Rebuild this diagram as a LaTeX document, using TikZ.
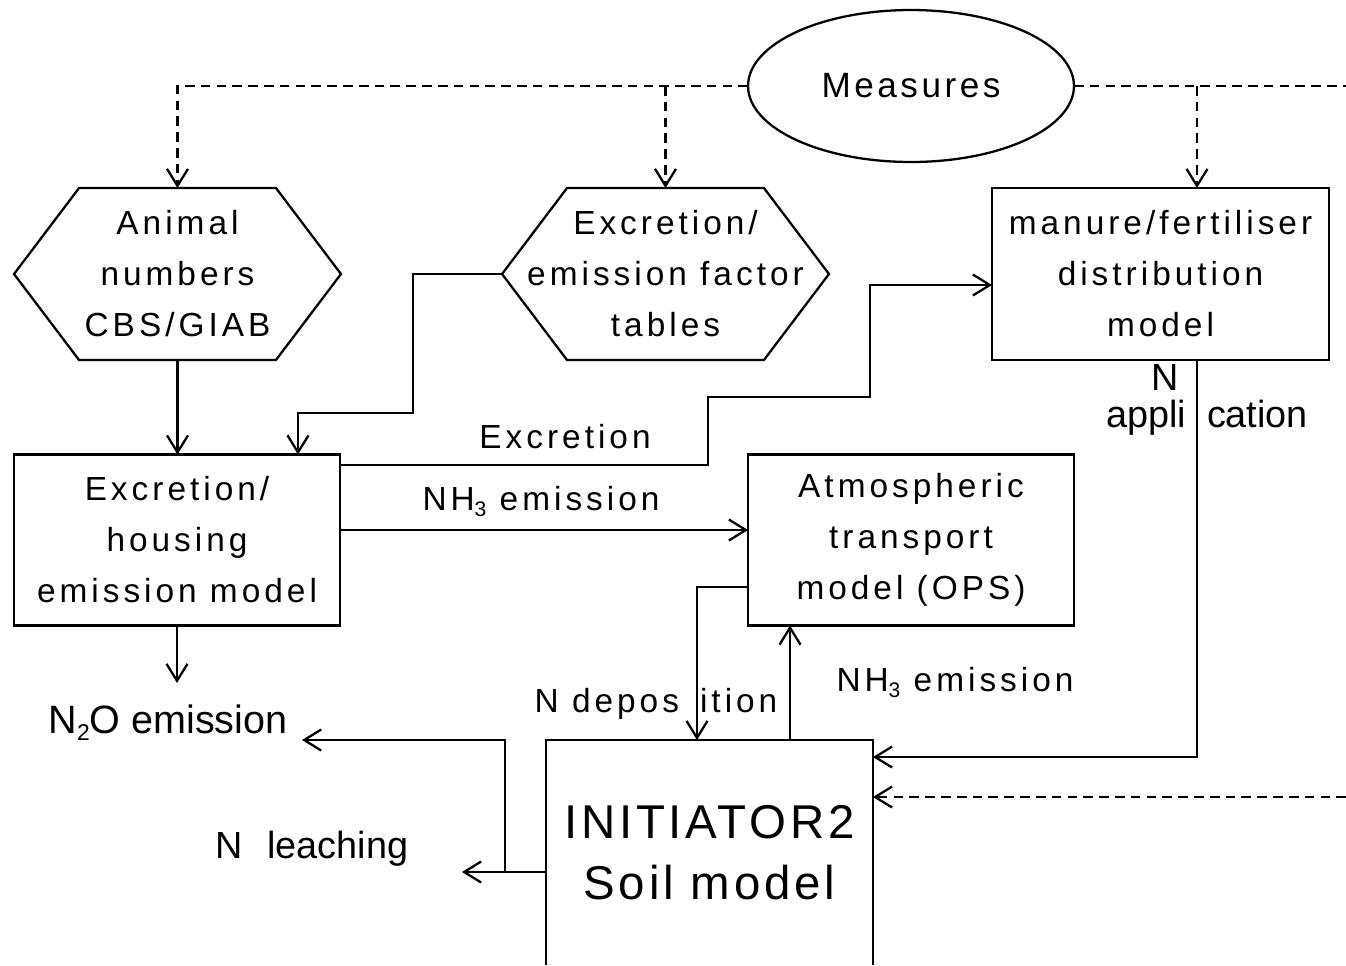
\documentclass[tikz,border=0pt]{standalone}
\usepackage{fontspec}
\setmainfont{Liberation Sans}
\newfontfamily\boxfont[LetterSpace=12]{Liberation Sans}
\newfontfamily\measfont[LetterSpace=10]{Liberation Sans}
\newfontfamily\soilfont[LetterSpace=8]{Liberation Sans}
\usetikzlibrary{arrows.meta,shapes.geometric}
\newcommand\subthree{\raisebox{-0.35ex}{\fontsize{12}{12}\selectfont 3}}
\begin{document}
\begin{tikzpicture}[x=0.02cm,y=-0.02cm,
  every node/.style={inner sep=0pt,outer sep=0pt},
  lw/.style={line width=1.3pt},
  boxtxt/.style={align=center,font=\boxfont\fontsize{19}{29}\selectfont},
  rbox/.style={lw,draw,boxtxt,minimum height=3.42cm},
  hexnode/.style={boxtxt,minimum width=6.54cm,minimum height=3.44cm},
  lab/.style={anchor=base,font=\boxfont\fontsize{19}{22}\selectfont},
  plab/.style={anchor=base,font=\fontsize{21.5}{25}\selectfont},
  arr/.style={lw,-{Straight Barb[length=0.34cm,width=0.42cm,line width=1.3pt]}},
  darr/.style={arr,dash pattern=on 5.5pt off 3.5pt},
  dline/.style={lw,dash pattern=on 5.5pt off 3.5pt}]
\useasboundingbox (0,0) rectangle (1346,965);

% nodes
\node[lw,draw,ellipse,minimum width=6.52cm,minimum height=3.04cm,
      font=\measfont\fontsize{20}{24}\selectfont] (meas) at (911,86) {Measures};
\node[hexnode] (h1) at (177.5,274) {Animal\\numbers\\CBS/GIAB};
\node[hexnode] (h2) at (665.5,274) {Excretion/\\emission factor\\tables};
\node[rbox,minimum width=6.74cm,minimum height=3.44cm] (man) at (1160.5,274) {manure/fertiliser\\distribution\\model};
\node[rbox,minimum width=6.52cm] (exh) at (177,540) {Excretion/\\housing\\emission model};
\node[rbox,minimum width=6.52cm] (atm) at (911,540) {Atmospheric\\transport\\model (OPS)};
\node[minimum width=6.54cm,minimum height=4.5cm,align=center,
      font=\soilfont\fontsize{27}{35}\selectfont] (soil) at (709.5,852.5) {INITIATOR2\\Soil model};

% hexagon outlines
\draw[lw] (h1.west) -- ([xshift=1.3cm]h1.north west) -- ([xshift=-1.3cm]h1.north east)
  -- (h1.east) -- ([xshift=-1.3cm]h1.south east) -- ([xshift=1.3cm]h1.south west) -- cycle;
\draw[lw] (h2.west) -- ([xshift=1.3cm]h2.north west) -- ([xshift=-1.3cm]h2.north east)
  -- (h2.east) -- ([xshift=-1.3cm]h2.south east) -- ([xshift=1.3cm]h2.south west) -- cycle;
% soil box (open at bottom)
\draw[lw] (soil.south west) -- (soil.north west) -- (soil.north east) -- (soil.south east);

% measures dashed connectors
\draw[darr] (meas.west) -| (h1.north);
\draw[darr] (h2.north |- meas.west) -- (h2.north);
\coordinate (rightedge) at (1346,86);
\draw[dline] (meas.east) -- (rightedge);
\draw[darr] (1197,86) -- (man.north -| 1197,0);
\coordinate (dashin) at (1346,797);
\draw[darr] (dashin) -- (soil.east |- 0,797);

% solid connectors
\draw[arr] (h1.south) -- (exh.north -| h1.south);
\draw[arr] (h2.west) -- (413,274) -- (413,413) -- (298,413) -- (exh.north -| 298,0);
\draw[arr] (exh.east |- 0,465) -- (708,465) -- (708,397) -- (870,397) -- (870,285) -- (man.west |- 0,285);
\draw[arr] (exh.east |- 0,530) -- (atm.west |- 0,530);
\coordinate (n2otip) at (177,683);
\draw[arr] (exh.south) -- (n2otip);
\draw[arr] (atm.west |- 0,587) -- (697,587) -- (soil.north -| 697,0);
\draw[arr] (soil.north -| 790,0) -- (atm.south -| 790,0);
\draw[arr] (man.south -| 1197,0) -- (1197,757) -- (soil.east |- 0,757);
\coordinate (leachtip) at (462,872);
\coordinate (n2otip2) at (302,740);
\draw[arr] (soil.west |- 0,872) -- (leachtip);
\draw[arr] (505,872) -- (505,740) -- (n2otip2);

% labels
\node[lab] (lexc) at (565,448) {Excretion};
\node[lab] (lnh3a) at (541,510) {NH\subthree{} emission};
\node[lab] (ldep) at (656,712) {N depos\hspace{12pt}ition};
\node[lab] (lnh3b) at (955,691) {NH\subthree{} emission};
\node[plab,font=\fontsize{22.5}{26}\selectfont] (ln2o) at (168,733) {N\raisebox{-0.35ex}{\fontsize{13}{13}\selectfont 2}O emission};
\node[plab] (lleach) at (312,858) {N\hspace{14pt}leaching};
\node[plab] (lN) at (1165,390) {N};
\node[plab] (lapp) at (1207,427) {appli\hspace{12pt}cation};
\end{tikzpicture}
\end{document}
